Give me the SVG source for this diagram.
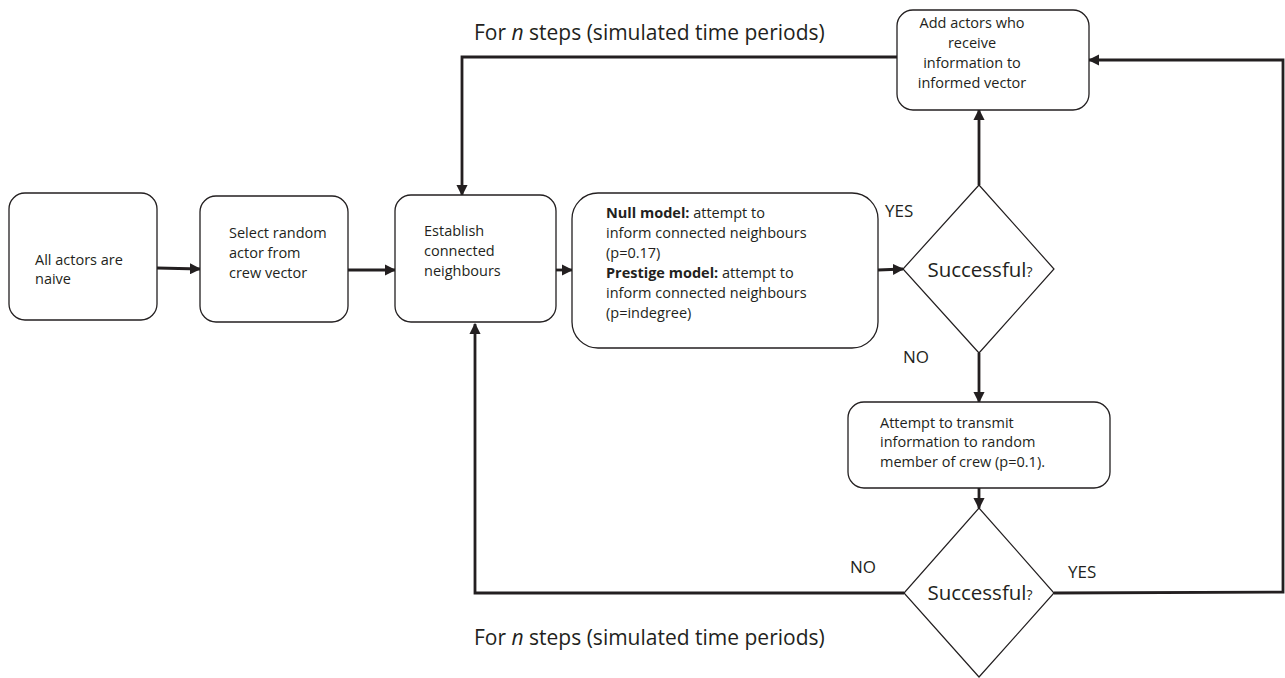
<svg xmlns="http://www.w3.org/2000/svg" width="1285" height="678" viewBox="0 0 1285 678">
<defs>
<marker id="ah" viewBox="0 0 10 10" refX="9" refY="5" markerWidth="4" markerHeight="4" markerUnits="strokeWidth" orient="auto">
<path d="M0,0 L10,5 L0,10 z" fill="#231f20"/>
</marker>
<style>
.box{fill:#fff;stroke:#231f20;stroke-width:1.3}
.dia{fill:#fff;stroke:#231f20;stroke-width:1.2}
.con{fill:none;stroke:#231f20;stroke-width:2.8;marker-end:url(#ah)}
.t{font-family:"Open Sans",Lato,sans-serif;font-size:14.5px;fill:#231f20}
.lab{font-family:"Open Sans",Lato,sans-serif;font-size:17px;fill:#231f20}
.big{font-family:"Open Sans",Lato,sans-serif;font-size:20.5px;fill:#231f20}
.ttl{font-family:"Open Sans",Lato,sans-serif;font-size:21px;fill:#231f20}
.b{font-weight:bold}
</style>
</defs>
<rect width="1285" height="678" fill="#fff"/>
<g id="connectors">
<path class="con" d="M157,268 L200,269"/>
<path class="con" d="M348,270 L395,270"/>
<path class="con" d="M556,270 L572,270"/>
<path class="con" d="M878,270 L903,269"/>
<path class="con" d="M979,185 L979,110"/>
<path class="con" d="M897,57 L462,57 L462,195"/>
<path class="con" d="M979,353 L979,402"/>
<path class="con" d="M979,488 L979,508"/>
<path class="con" d="M904,593 L475,593 L475,324"/>
<path class="con" d="M1054,593 L1283,592 L1283,60 L1089,60"/>
</g>
<g id="n1"><rect class="box" x="9" y="193" width="148" height="127" rx="16"/>
<text class="t" x="35" y="265">All actors are</text><text class="t" x="35" y="284">naive</text></g>
<g id="n2"><rect class="box" x="200" y="196" width="148" height="126" rx="16"/>
<text class="t" x="229" y="238">Select random</text><text class="t" x="229" y="258">actor from</text><text class="t" x="229" y="278">crew vector</text></g>
<g id="n3"><rect class="box" x="395" y="195" width="161" height="127" rx="16"/>
<text class="t" x="424" y="236">Establish</text><text class="t" x="424" y="256">connected</text><text class="t" x="424" y="276">neighbours</text></g>
<g id="n4"><rect class="box" x="572" y="193" width="306" height="155" rx="26"/>
<text class="t" x="606" y="218"><tspan class="b">Null model:</tspan>  attempt to</text>
<text class="t" x="606" y="238">inform connected neighbours</text>
<text class="t" x="606" y="258">(p=0.17)</text>
<text class="t" x="606" y="278"><tspan class="b">Prestige model:</tspan> attempt to</text>
<text class="t" x="606" y="298">inform connected neighbours</text>
<text class="t" x="606" y="318">(p=indegree)</text></g>
<g id="d1"><polygon class="dia" points="979,185 1054,269 979,353 903,269"/>
<text class="big" x="980" y="277" text-anchor="middle">Successful<tspan font-size="14px">?</tspan></text></g>
<g id="n5"><rect class="box" x="897" y="10" width="192" height="100" rx="16"/>
<text class="t" x="972" y="28" text-anchor="middle">Add actors who</text>
<text class="t" x="972" y="48" text-anchor="middle">receive</text>
<text class="t" x="972" y="68" text-anchor="middle">information to</text>
<text class="t" x="972" y="88" text-anchor="middle">informed vector</text></g>
<g id="n6"><rect class="box" x="848" y="402" width="262" height="86" rx="16"/>
<text class="t" x="880" y="428">Attempt to transmit</text>
<text class="t" x="880" y="447">information to random</text>
<text class="t" x="880" y="467">member of crew (p=0.1).</text></g>
<g id="d2"><polygon class="dia" points="979,508 1054,593 979,677 904,593"/>
<text class="big" x="980" y="600" text-anchor="middle">Successful<tspan font-size="14px">?</tspan></text></g>
<g id="labels">
<text class="lab" x="885" y="217">YES</text>
<text class="lab" x="903" y="363">NO</text>
<text class="lab" x="850" y="573">NO</text>
<text class="lab" x="1068" y="578">YES</text>
<text class="ttl" x="474" y="40">For <tspan font-style="italic">n</tspan> steps (simulated time periods)</text>
<text class="ttl" x="474" y="645">For <tspan font-style="italic">n</tspan> steps (simulated time periods)</text>
</g>
</svg>
